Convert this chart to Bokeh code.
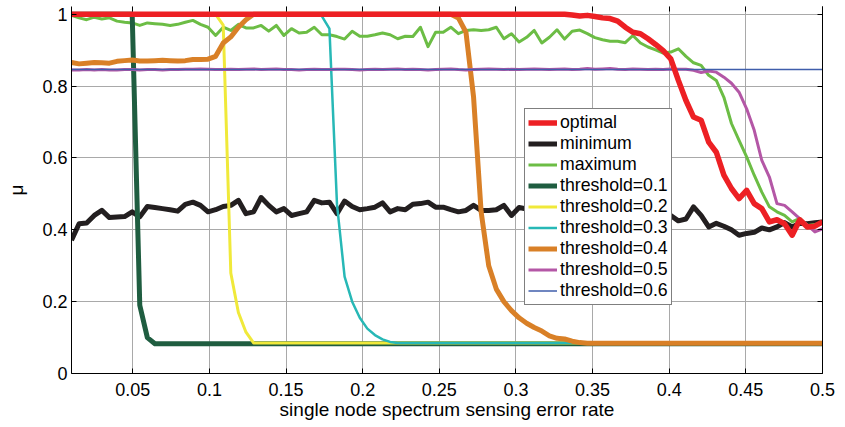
import numpy as np
from bokeh.plotting import figure
from bokeh.models import (Range1d, FixedTicker, LinearAxis, Legend, LegendItem,
                          NumeralTickFormatter, CustomJSTickFormatter)
from bokeh.embed import file_html
from bokeh.resources import INLINE

# sample positions (single node spectrum sensing error rate)
x = np.linspace(0.01, 0.5, 100)

x_ticks = [0.05, 0.1, 0.15, 0.2, 0.25, 0.3, 0.35, 0.4, 0.45, 0.5]
y_ticks = [0, 0.2, 0.4, 0.6, 0.8, 1.0]

optimal = [1.0] * 66 + [
    0.998, 0.995, 0.997, 0.994, 0.990, 0.988, 0.981, 0.964, 0.950, 0.946,
    0.932, 0.916, 0.899, 0.876, 0.816, 0.760, 0.714, 0.705, 0.644, 0.616,
    0.552, 0.515, 0.487, 0.510, 0.473, 0.459, 0.422, 0.428, 0.417, 0.385,
    0.428, 0.408, 0.410, 0.422]

minimum = [
    0.371, 0.417, 0.419, 0.440, 0.454, 0.434, 0.436, 0.437, 0.450, 0.436,
    0.465, 0.462, 0.459, 0.456, 0.452, 0.471, 0.477, 0.468, 0.450, 0.456,
    0.465, 0.468, 0.482, 0.445, 0.450, 0.490, 0.468, 0.450, 0.459, 0.440,
    0.445, 0.450, 0.482, 0.475, 0.477, 0.445, 0.480, 0.465, 0.456, 0.459,
    0.463, 0.475, 0.450, 0.459, 0.456, 0.471, 0.473, 0.477, 0.463,
    0.463, 0.456, 0.450, 0.454, 0.468, 0.454, 0.454, 0.456, 0.468, 0.440,
    0.462, 0.458, 0.466, 0.452, 0.470, 0.461, 0.449, 0.473, 0.457, 0.463,
    0.451, 0.468, 0.455, 0.462, 0.470, 0.448, 0.459, 0.466, 0.452, 0.446,
    0.440, 0.425, 0.430, 0.464, 0.440, 0.408, 0.418, 0.410, 0.400, 0.385,
    0.390, 0.393, 0.405, 0.400, 0.408, 0.420, 0.408, 0.418, 0.417, 0.420,
    0.422]

maximum = [
    0.997, 0.990, 0.985, 0.992, 0.987, 0.990, 0.981, 0.978, 0.976, 0.969,
    0.976, 0.974, 0.972, 0.969, 0.972, 0.978, 0.983, 0.972, 0.964, 0.941,
    0.964, 0.955, 0.972, 0.962, 0.962, 0.969, 0.953, 0.969, 0.941, 0.960,
    0.948, 0.950, 0.964, 0.943, 0.943, 0.938, 0.931, 0.953, 0.939, 0.939,
    0.943, 0.948, 0.943, 0.932, 0.939, 0.938, 0.964, 0.910, 0.950,
    0.950, 0.964, 0.946, 0.955, 0.957, 0.955, 0.957, 0.964, 0.932, 0.946,
    0.923, 0.936, 0.955, 0.920, 0.936, 0.957, 0.931, 0.953, 0.956, 0.946,
    0.935, 0.929, 0.925, 0.925, 0.921, 0.941, 0.920, 0.909, 0.901, 0.892,
    0.895, 0.904, 0.883, 0.865, 0.858, 0.830, 0.816, 0.769, 0.696, 0.649,
    0.603, 0.552, 0.505, 0.464, 0.450, 0.440, 0.422, 0.432, 0.412, 0.415,
    0.418]

thr_01 = [1.0] * 9 + [0.19, 0.10] + [0.083] * 89

thr_02 = [1.0] * 20 + [0.97, 0.28, 0.17, 0.115] + [0.085] * 76

thr_03 = [1.0] * 33 + [0.995, 0.96, 0.47, 0.27, 0.20, 0.155, 0.125, 0.107, 0.095, 0.088] + [0.085] * 57

thr_04 = [
    0.866, 0.862, 0.864, 0.866, 0.865, 0.864, 0.869, 0.871, 0.873, 0.870,
    0.870, 0.871, 0.872, 0.871, 0.870, 0.871, 0.874, 0.874, 0.875, 0.883,
    0.920, 0.937, 0.964, 0.985, 1.0] + [1.0] * 26 + [
    0.99, 0.95, 0.77, 0.45, 0.30, 0.235, 0.20, 0.175, 0.155, 0.14,
    0.128, 0.118, 0.105, 0.098, 0.096, 0.090, 0.086] + [0.084] * 32

thr_05 = [
    0.845, 0.845, 0.846, 0.845, 0.846, 0.845, 0.845, 0.846, 0.846, 0.845,
    0.846, 0.846, 0.845, 0.846, 0.846, 0.847, 0.847, 0.848, 0.847, 0.846,
    0.846, 0.847, 0.846, 0.847, 0.848, 0.846, 0.847, 0.848, 0.846, 0.846,
    0.845, 0.846, 0.847, 0.846, 0.846, 0.847, 0.847, 0.846, 0.845, 0.846,
    0.847, 0.846, 0.847, 0.848, 0.846, 0.847, 0.846, 0.845, 0.846, 0.847,
    0.848, 0.846, 0.845, 0.846, 0.847, 0.848, 0.847, 0.846, 0.847, 0.846,
    0.847, 0.848, 0.847, 0.846, 0.847, 0.848, 0.846, 0.847, 0.849, 0.847,
    0.848, 0.849, 0.847, 0.846, 0.848, 0.847, 0.846, 0.847, 0.846, 0.848,
    0.847,
    0.847, 0.844, 0.838, 0.842, 0.839, 0.825, 0.808, 0.783, 0.737, 0.677,
    0.593, 0.547, 0.473, 0.468, 0.450, 0.431, 0.413, 0.394, 0.403]

thr_06 = [0.846] * 100

labels = ["optimal", "minimum", "maximum", "threshold=0.1", "threshold=0.2",
          "threshold=0.3", "threshold=0.4", "threshold=0.5", "threshold=0.6"]

x_label = "single node spectrum sensing error rate"
y_label = "μ"

FONT = "Liberation Sans"

p = figure(width=845, height=427, output_backend="svg", toolbar_location=None,
           x_range=Range1d(0.01, 0.5), y_range=Range1d(0, 1.0217),
           min_border_left=71, min_border_right=23, min_border_top=6, min_border_bottom=54)
p.outline_line_color = None
p.background_fill_color = "white"
p.border_fill_color = "white"

for ax in (p.xaxis[0], p.yaxis[0]):
    ax.major_tick_in = 5
    ax.major_tick_out = 0
    ax.minor_tick_line_color = None
    ax.axis_line_color = "black"
    ax.major_tick_line_color = "black"
    ax.major_label_text_font = FONT
    ax.major_label_text_font_size = "18px"
    ax.major_label_text_color = "black"
    ax.axis_label_text_font = FONT
    ax.axis_label_text_font_size = "19px"
    ax.axis_label_text_font_style = "normal"
    ax.axis_label_text_color = "black"

p.xaxis.ticker = FixedTicker(ticks=x_ticks)
p.yaxis.ticker = FixedTicker(ticks=y_ticks)
p.xaxis.formatter = NumeralTickFormatter(format="0.[00]")
p.yaxis.formatter = NumeralTickFormatter(format="0.[0]")
p.xaxis.axis_label = x_label
p.yaxis.axis_label = y_label
p.xaxis.major_label_standoff = 9
p.xaxis.axis_label_standoff = 0
p.yaxis.major_label_standoff = 4
p.yaxis.axis_label_standoff = 12

p.xgrid.grid_line_color = "#a9a9a9"
p.ygrid.grid_line_color = "#a9a9a9"

# box: right and top ticks without labels
empty = CustomJSTickFormatter(code="return ''")
raxis = LinearAxis(ticker=FixedTicker(ticks=y_ticks), formatter=empty,
                   major_tick_in=5, major_tick_out=0, minor_tick_line_color=None,
                   major_label_text_font_size="1px", major_label_standoff=0,
                   axis_line_color="black")
p.add_layout(raxis, "right")
taxis = LinearAxis(ticker=FixedTicker(ticks=x_ticks), formatter=empty,
                   major_tick_in=5, major_tick_out=0, minor_tick_line_color=None,
                   major_label_text_font_size="1px", major_label_standoff=0,
                   axis_line_color=None)
p.add_layout(taxis, "above")

series = [
    ("minimum", minimum, "#231f20", 5),
    ("maximum", maximum, "#6cbd45", 3),
    ("threshold=0.1", thr_01, "#1f5d40", 5),
    ("threshold=0.2", thr_02, "#f0e93a", 3),
    ("threshold=0.3", thr_03, "#27b8b6", 2.5),
    ("threshold=0.4", thr_04, "#d98027", 5),
    ("threshold=0.5", thr_05, "#b457a6", 3),
    ("threshold=0.6", thr_06, "#3f5eab", 1.5),
    ("optimal", optimal, "#ed2024", 5.5),
]
rends = {}
for name, ys, color, w in series:
    rends[name] = p.line(x, ys, line_color=color, line_width=w, line_join="round")

legend = Legend(items=[LegendItem(label=l, renderers=[rends[l]]) for l in labels],
                location=(453, 68))
legend.label_text_font = FONT
legend.label_text_font_size = "17.7px"
legend.label_text_color = "black"
legend.glyph_width = 29
legend.glyph_height = 21
legend.label_height = 21
legend.spacing = 0
legend.padding = 3
legend.margin = 0
legend.label_standoff = 3
legend.border_line_color = "black"
legend.border_line_width = 1
legend.background_fill_color = "white"
legend.background_fill_alpha = 1.0
p.add_layout(legend, "center")

open("out.html", "w").write(file_html(p, INLINE))
